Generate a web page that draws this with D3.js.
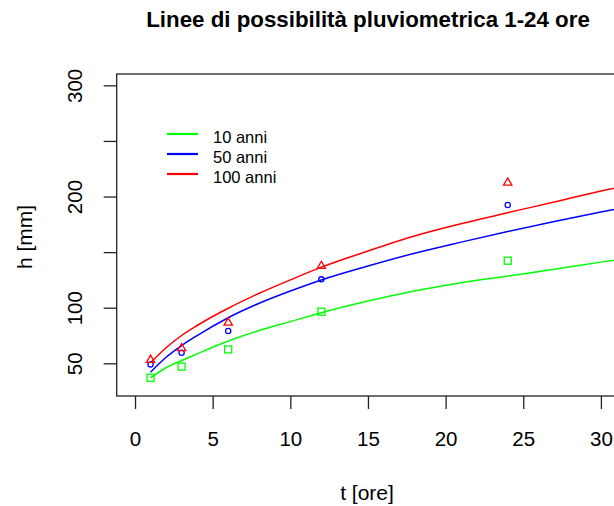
<!DOCTYPE html>
<html lang="it">
<head>
<meta charset="UTF-8">
<title>Linee di possibilità pluviometrica</title>
<script src="https://d3js.org/d3.v7.min.js"></script>
<style>
  body { margin: 0; background: #fff; }
  text { font-family: "Liberation Sans", Arial, sans-serif; fill: #000; }
</style>
</head>
<body>
<script>
// curve values (t in hours, h in mm)
const curveT = [1, 2, 3, 4, 6, 8, 10, 12, 15, 18, 21, 24, 27, 30, 32];
const curve10 = [37, 46, 52.5, 58.5, 70, 79.5, 87.5, 95.5, 106, 115, 122.5, 128.5, 134.5, 141, 145];
const curve50 = [42, 55.5, 66, 75, 91, 104, 115, 125, 137.5, 149, 159, 168.5, 177.5, 186, 191.5];
const curve100 = [50.5, 64, 75, 84, 99.5, 113, 125, 136.5, 151, 164.5, 175.5, 185.5, 195, 205, 210.5];

// observed points
const obsT = [1, 3, 6, 12, 24];
const obs10 = [37, 47, 62.5, 96.4, 142.3];
const obs50 = [49, 59.5, 79, 125.5, 192.4];
const obs100 = [53, 63.5, 86.5, 137.5, 212.4];

const seriesNames = ["10 anni", "50 anni", "100 anni"];
const seriesColors = ["#00ff00", "#0000ff", "#ff0000"];

const xTicks = [0, 5, 10, 15, 20, 25, 30];
const yTicks = [50, 100, 150, 200, 250, 300];
const yLabels = [50, 100, 200, 300];

const W = 614, H = 506;
const box = {left: 116.7, right: 620, top: 74, bottom: 396};

const svg = d3.select("body").append("svg")
  .attr("width", W).attr("height", H);

const x = d3.scaleLinear().domain([-1.18, 31.23]).range([box.left, box.right]);
const y = d3.scaleLinear().domain([20.6, 310.2]).range([box.bottom, box.top]);

svg.append("defs").append("clipPath").attr("id", "clip")
  .append("rect")
  .attr("x", box.left).attr("y", box.top)
  .attr("width", box.right - box.left).attr("height", box.bottom - box.top);

// title
svg.append("text")
  .attr("x", 368).attr("y", 27)
  .attr("text-anchor", "middle")
  .style("font-size", "22.3px").style("font-weight", "bold")
  .text("Linee di possibilità pluviometrica 1-24 ore");

// axes
const xAxis = svg.append("g").attr("transform", `translate(0,${box.bottom})`)
  .call(d3.axisBottom(x).tickValues(xTicks).tickSize(13).tickSizeOuter(0));
const yAxis = svg.append("g").attr("transform", `translate(${box.left},0)`)
  .call(d3.axisLeft(y).tickValues(yTicks).tickSize(13).tickSizeOuter(0)
    .tickFormat(d => yLabels.includes(d) ? d : ""));

[xAxis, yAxis].forEach(a => {
  a.select(".domain").remove();
  a.selectAll(".tick line").attr("stroke", "#222").attr("stroke-width", 1.3);
  a.selectAll("text").style("font-size", "20.5px").attr("fill", "#000");
});
xAxis.selectAll("text").attr("dy", null).attr("y", 50);
yAxis.selectAll(".tick text")
  .attr("x", null).attr("dy", null)
  .attr("transform", "translate(-35,0) rotate(-90)")
  .attr("text-anchor", "middle");

// box
svg.append("rect")
  .attr("x", box.left).attr("y", box.top)
  .attr("width", box.right - box.left).attr("height", box.bottom - box.top)
  .attr("fill", "none").attr("stroke", "#222").attr("stroke-width", 1.3);

// axis titles
svg.append("text")
  .attr("x", 367).attr("y", 500)
  .attr("text-anchor", "middle").style("font-size", "21px")
  .text("t [ore]");
svg.append("text")
  .attr("transform", "translate(32,237) rotate(-90)")
  .attr("text-anchor", "middle").style("font-size", "21px")
  .text("h [mm]");

// curves
const line = d3.line().x(d => x(d[0])).y(d => y(d[1])).curve(d3.curveMonotoneX);
const plot = svg.append("g").attr("clip-path", "url(#clip)");
[curve10, curve50, curve100].forEach((vals, i) => {
  plot.append("path")
    .datum(curveT.map((t, j) => [t, vals[j]]))
    .attr("d", line)
    .attr("fill", "none")
    .attr("stroke", seriesColors[i])
    .attr("stroke-width", 1.5);
});

// observed markers
plot.selectAll(".sq").data(obsT.map((t, j) => [t, obs10[j]])).enter()
  .append("rect")
  .attr("x", d => x(d[0]) - 3.5).attr("y", d => y(d[1]) - 3.5)
  .attr("width", 7).attr("height", 7)
  .attr("fill", "none").attr("stroke", seriesColors[0]).attr("stroke-width", 1.3);

plot.selectAll(".ci").data(obsT.map((t, j) => [t, obs50[j]])).enter()
  .append("circle")
  .attr("cx", d => x(d[0])).attr("cy", d => y(d[1]))
  .attr("r", 2.6)
  .attr("fill", "none").attr("stroke", seriesColors[1]).attr("stroke-width", 1.3);

const tri = d3.symbol().type(d3.symbolTriangle).size(30);
plot.selectAll(".tr").data(obsT.map((t, j) => [t, obs100[j]])).enter()
  .append("path")
  .attr("d", tri)
  .attr("transform", d => `translate(${x(d[0])},${y(d[1])})`)
  .attr("fill", "none").attr("stroke", seriesColors[2]).attr("stroke-width", 1.3);

// legend
const legend = svg.append("g");
seriesNames.forEach((name, i) => {
  const ly = 134 + i * 20;
  legend.append("line")
    .attr("x1", 167).attr("x2", 198).attr("y1", ly).attr("y2", ly)
    .attr("stroke", seriesColors[i]).attr("stroke-width", 2.2);
  legend.append("text")
    .attr("x", 213).attr("y", ly + 9)
    .style("font-size", "16.5px")
    .text(name);
});
</script>
</body>
</html>
